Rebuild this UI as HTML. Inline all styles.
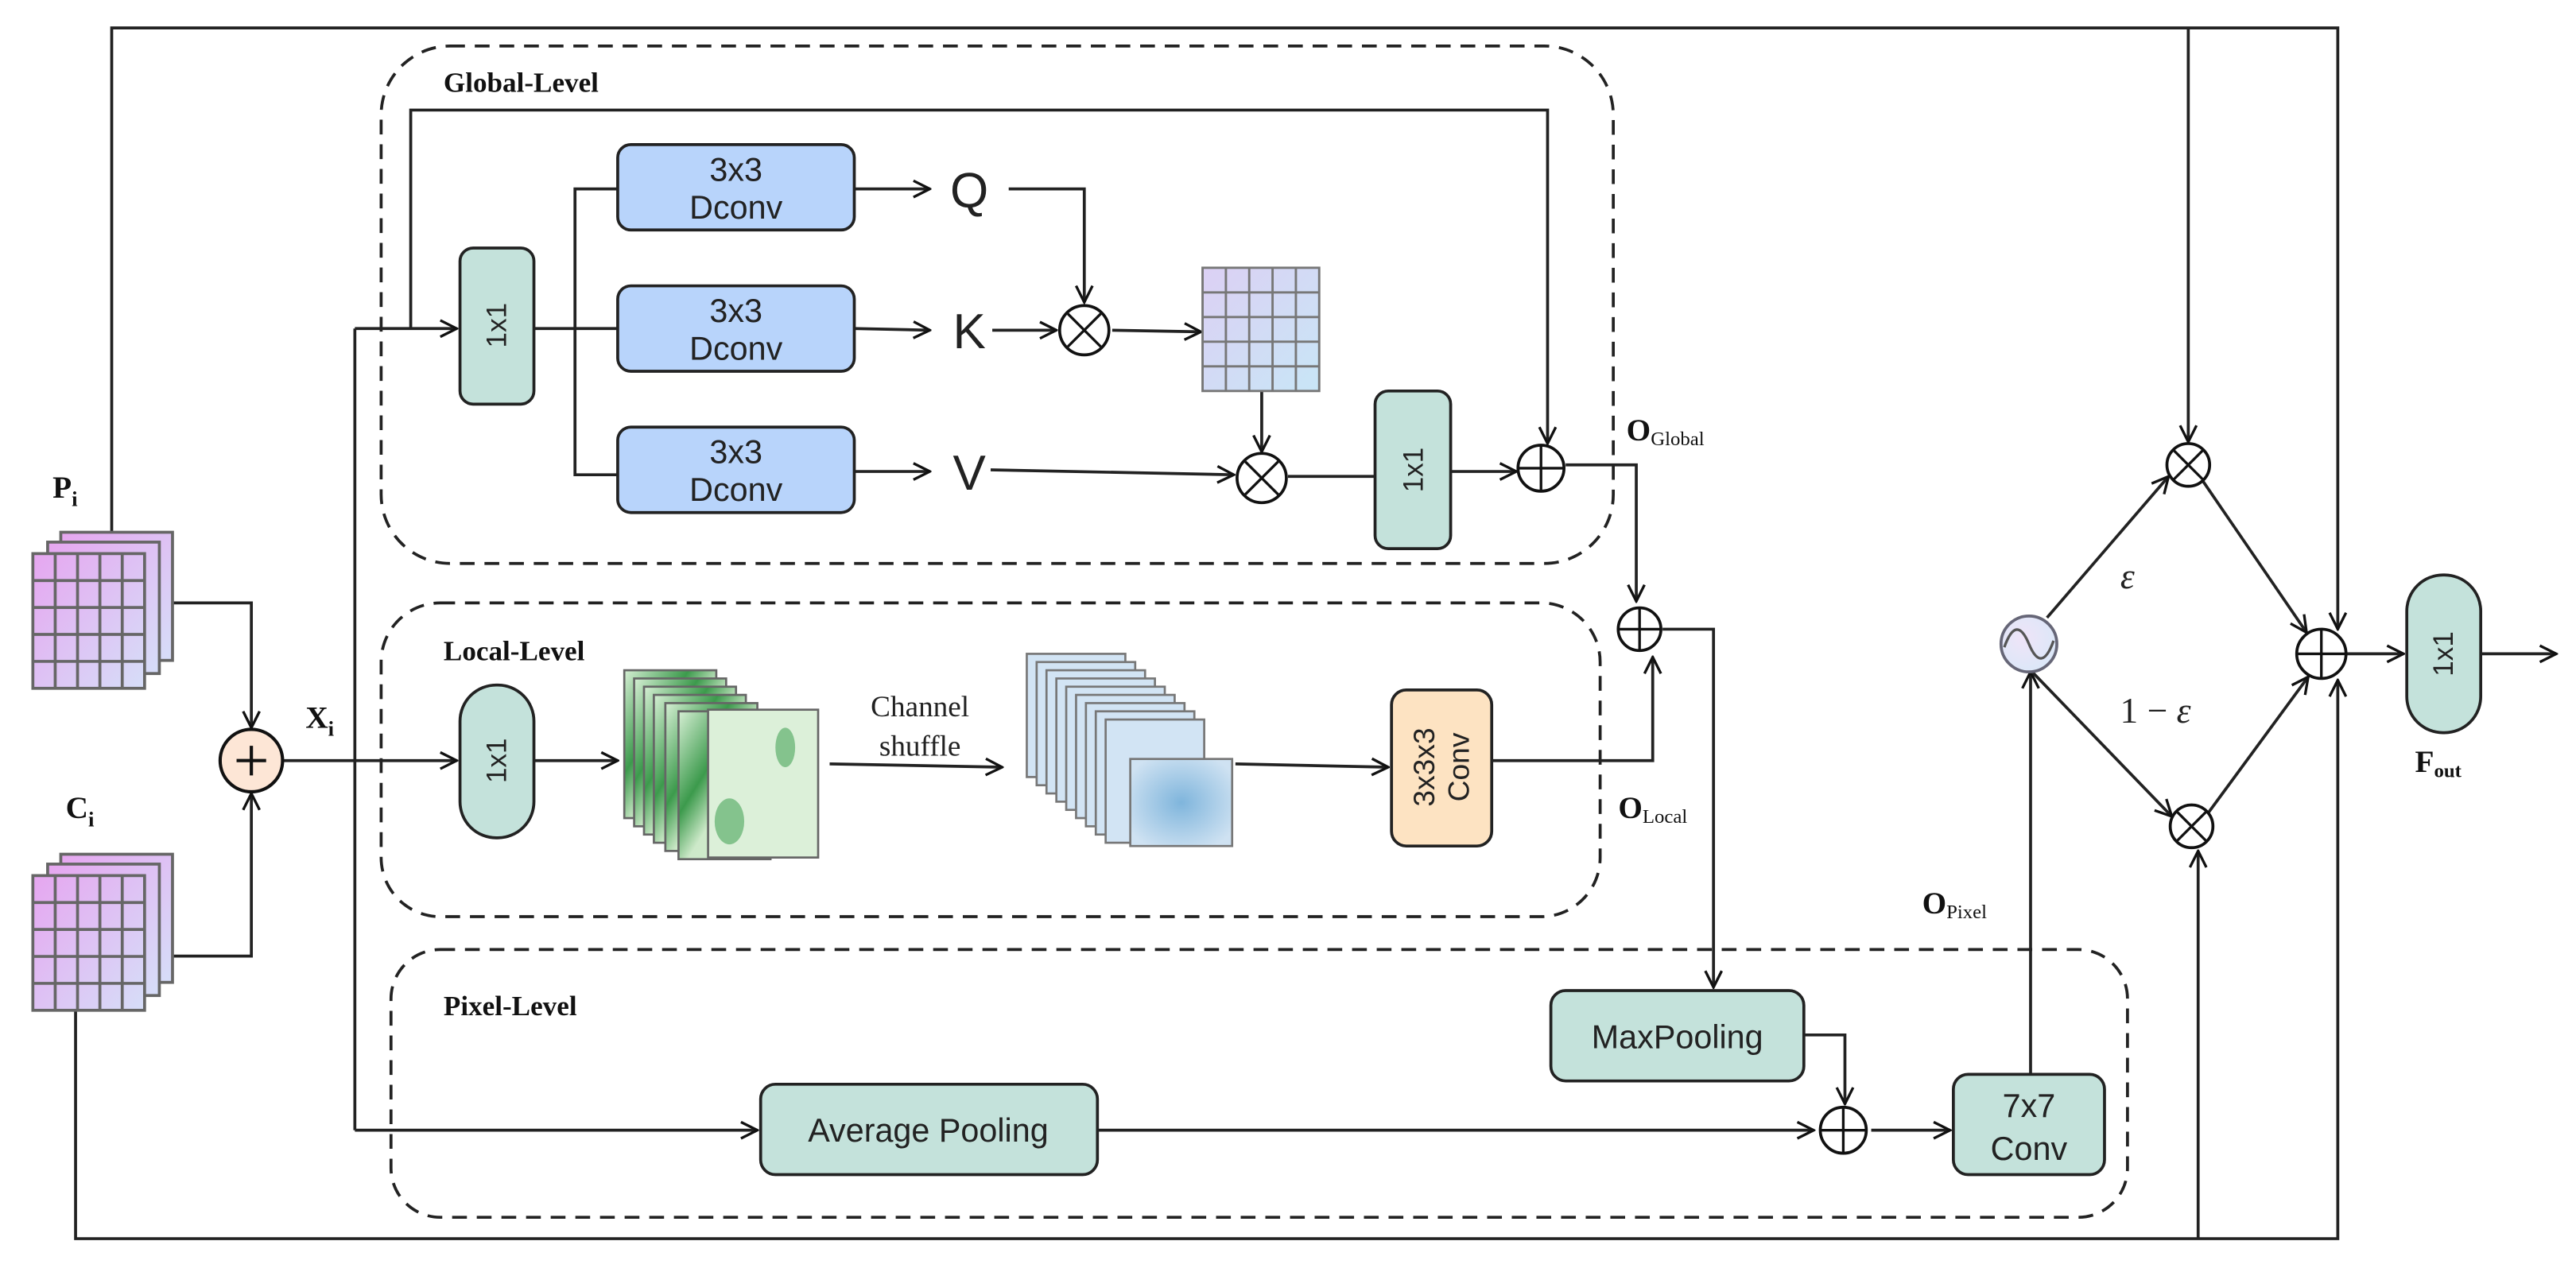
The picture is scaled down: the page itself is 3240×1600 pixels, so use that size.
<!DOCTYPE html>
<html><head><meta charset="utf-8"><style>
html,body{margin:0;padding:0;background:#fff;}
svg{display:block}
.sans{font-family:"Liberation Sans",sans-serif;}
.serif{font-family:"Liberation Serif",serif;}
</style></head><body>
<svg width="3240" height="1600" viewBox="0 0 1568 774.3" preserveAspectRatio="none" xmlns="http://www.w3.org/2000/svg">
<defs>
<marker id="a" viewBox="0 0 12 12" refX="11" refY="6" markerWidth="12" markerHeight="12" markerUnits="userSpaceOnUse" orient="auto">
<path d="M1,1 L11,6 L1,11" fill="none" stroke="#111" stroke-width="1.6"/></marker>
<linearGradient id="pg" x1="0" y1="0" x2="1" y2="1"><stop offset="0" stop-color="#e6a6f0"/><stop offset="1" stop-color="#d6def8"/></linearGradient>
<linearGradient id="gg" x1="0" y1="0" x2="1" y2="1"><stop offset="0" stop-color="#dcd0f4"/><stop offset="1" stop-color="#c8e6f6"/></linearGradient>
<linearGradient id="gr" x1="0" y1="0" x2="1" y2="1"><stop offset="0" stop-color="#d6efd4"/><stop offset="0.35" stop-color="#3c9a4c"/><stop offset="0.55" stop-color="#cde9c9"/><stop offset="1" stop-color="#d6efd4"/></linearGradient>
<radialGradient id="bl" cx="0.5" cy="0.5" r="0.6"><stop offset="0" stop-color="#7fb5dc"/><stop offset="1" stop-color="#cfe2f2"/></radialGradient>
<radialGradient id="sg" cx="0.4" cy="0.4" r="0.7"><stop offset="0" stop-color="#efe4f8"/><stop offset="1" stop-color="#d9e8f8"/></radialGradient>
</defs>
<g fill="none" stroke="#222" stroke-width="1.8">
<rect x="232" y="28" width="750" height="315" rx="42" stroke-dasharray="9,6"/>
<rect x="232" y="367" width="742" height="191" rx="36" stroke-dasharray="9,6"/>
<rect x="238" y="578" width="1057" height="163" rx="30" stroke-dasharray="9,6"/>
<polyline points="68,330 68,17 1423,17 1423,383" marker-end="url(#a)"/>
<line x1="1332" y1="17" x2="1332" y2="269" marker-end="url(#a)"/>
<polyline points="46,600 46,754 1423,754 1423,414" marker-end="url(#a)"/>
<line x1="1338" y1="754" x2="1338" y2="518" marker-end="url(#a)"/>
<polyline points="105,367 153,367 153,443" marker-end="url(#a)"/>
<polyline points="105,582 153,582 153,483" marker-end="url(#a)"/>
<line x1="172" y1="463" x2="278" y2="463" marker-end="url(#a)"/>
<line x1="216" y1="200" x2="216" y2="688"/>
<line x1="216" y1="200" x2="278" y2="200" marker-end="url(#a)"/>
<polyline points="250,200 250,67 942,67 942,270" marker-end="url(#a)"/>
<line x1="216" y1="688" x2="461" y2="688" marker-end="url(#a)"/>
<line x1="325" y1="200" x2="376" y2="200"/>
<polyline points="376,115 350,115 350,289 376,289"/>
<line x1="520" y1="115" x2="566" y2="115" marker-end="url(#a)"/>
<line x1="520" y1="200" x2="566" y2="201" marker-end="url(#a)"/>
<line x1="520" y1="287" x2="566" y2="287" marker-end="url(#a)"/>
<polyline points="614,115 660,115 660,184" marker-end="url(#a)"/>
<line x1="604" y1="201" x2="643" y2="201" marker-end="url(#a)"/>
<line x1="677" y1="201" x2="731" y2="202" marker-end="url(#a)"/>
<line x1="768" y1="238" x2="768" y2="275" marker-end="url(#a)"/>
<line x1="603" y1="286" x2="751" y2="289" marker-end="url(#a)"/>
<line x1="784" y1="290" x2="837" y2="290"/>
<line x1="883" y1="287" x2="923" y2="287" marker-end="url(#a)"/>
<polyline points="953,283 996,283 996,366" marker-end="url(#a)"/>
<line x1="325" y1="463" x2="376" y2="463" marker-end="url(#a)"/>
<line x1="505" y1="465" x2="610" y2="467" marker-end="url(#a)"/>
<line x1="752" y1="465" x2="845" y2="467" marker-end="url(#a)"/>
<polyline points="908,463 1006,463 1006,400" marker-end="url(#a)"/>
<polyline points="1012,383 1043,383 1043,601" marker-end="url(#a)"/>
<polyline points="1098,630 1123,630 1123,672" marker-end="url(#a)"/>
<line x1="668" y1="688" x2="1104" y2="688" marker-end="url(#a)"/>
<line x1="1139" y1="688" x2="1187" y2="688" marker-end="url(#a)"/>
<line x1="1236" y1="654" x2="1236" y2="409" marker-end="url(#a)"/>
<line x1="1246" y1="376" x2="1320" y2="290" marker-end="url(#a)"/>
<line x1="1236" y1="408" x2="1322" y2="497" marker-end="url(#a)"/>
<line x1="1341" y1="293" x2="1404" y2="385" marker-end="url(#a)"/>
<line x1="1344" y1="495" x2="1405" y2="412" marker-end="url(#a)"/>
<line x1="1428" y1="398" x2="1463" y2="398" marker-end="url(#a)"/>
<line x1="1510" y1="398" x2="1556" y2="398" marker-end="url(#a)"/>
</g>

<g id="stk" stroke="#666" stroke-width="1.8" fill="url(#pg)">
<rect x="37" y="324" width="68" height="78"/>
<rect x="29" y="330" width="68" height="80"/>
<rect x="20" y="337" width="68" height="82"/>
<path d="M33.6,337v82M47.2,337v82M60.8,337v82M74.4,337v82M20,353.4h68M20,369.8h68M20,386.2h68M20,402.6h68" fill="none"/>
</g>
<use href="#stk" transform="translate(0,196)"/>

<ellipse cx="153" cy="463" rx="19" ry="19" fill="#fde6d6" stroke="#111" stroke-width="2"/>
<path d="M144,463h18M153,454v18" stroke="#111" stroke-width="2"/>

<g stroke="#222" stroke-width="1.8">
<rect x="280" y="151" width="45" height="95" rx="8" fill="#c4e2db"/>
<rect x="376" y="88" width="144" height="52" rx="8" fill="#b8d4fb"/>
<rect x="376" y="174" width="144" height="52" rx="8" fill="#b8d4fb"/>
<rect x="376" y="260" width="144" height="52" rx="8" fill="#b8d4fb"/>
<rect x="837" y="238" width="46" height="96" rx="8" fill="#c4e2db"/>
<rect x="280" y="417" width="45" height="93" rx="22" fill="#c4e2db"/>
<rect x="847" y="420" width="61" height="95" rx="9" fill="#fde3c2"/>
<rect x="944" y="603" width="154" height="55" rx="9" fill="#c4e2db"/>
<rect x="463" y="660" width="205" height="55" rx="9" fill="#c4e2db"/>
<rect x="1189" y="654" width="92" height="61" rx="9" fill="#c4e2db"/>
<rect x="1465" y="350" width="45" height="96" rx="22" fill="#c4e2db"/>
</g>

<g stroke="#777" stroke-width="1.4" fill="url(#gg)">
<rect x="732" y="163" width="71" height="75"/>
<path d="M746.2,163v75M760.4,163v75M774.6,163v75M788.8,163v75M732,178h71M732,193h71M732,208h71M732,223h71" fill="none"/>
</g>

<g stroke="#666" stroke-width="1.3" fill="url(#gr)">
<rect x="380" y="408" width="56" height="90"/><rect x="386" y="413" width="56" height="90"/>
<rect x="392" y="418" width="56" height="90"/><rect x="398" y="423" width="56" height="90"/>
<rect x="405" y="428" width="56" height="90"/><rect x="413" y="433" width="56" height="90"/>
<rect x="431" y="432" width="67" height="90" fill="#dcf0d9"/>
</g>
<ellipse cx="444" cy="500" rx="9" ry="14" fill="#4aa55a" opacity="0.6"/>
<ellipse cx="478" cy="455" rx="6" ry="12" fill="#4aa55a" opacity="0.6"/>
<g stroke="#777" stroke-width="1.3" fill="#d2e4f4">
<rect x="625" y="398" width="60" height="75"/><rect x="631" y="403" width="60" height="75"/>
<rect x="637" y="408" width="60" height="75"/><rect x="643" y="413" width="60" height="75"/>
<rect x="649" y="418" width="60" height="75"/><rect x="655" y="423" width="60" height="75"/>
<rect x="661" y="428" width="60" height="75"/><rect x="667" y="433" width="60" height="75"/>
<rect x="673" y="438" width="60" height="75"/><rect x="688" y="462" width="62" height="53" fill="url(#bl)"/>
</g>

<g fill="#fff" stroke="#111" stroke-width="1.8">
<circle cx="660" cy="201" r="15"/><circle cx="768" cy="291" r="15"/>
<circle cx="1332" cy="283" r="13"/><circle cx="1334" cy="503" r="13"/>
<circle cx="938" cy="285" r="14"/><circle cx="998" cy="383" r="13"/>
<circle cx="1122" cy="688" r="14"/><circle cx="1413" cy="398" r="15"/>
</g>
<g stroke="#111" stroke-width="1.6">
<path d="M650,191l20,20M670,191l-20,20M758,281l20,20M778,281l-20,20M1323,274l18,18M1341,274l-18,18M1325,494l18,18M1343,494l-18,18"/>
<path d="M924,285h28M938,271v28M985,383h26M998,370v26M1108,688h28M1122,674v28M1398,398h30M1413,383v30"/>
</g>
<circle cx="1235" cy="392" r="17" fill="url(#sg)" stroke="#667" stroke-width="1.8"/>
<path d="M1220,394c5,-14 10,-14 15,-2c5,12 10,12 15,-2" fill="none" stroke="#555" stroke-width="1.6"/>

<g class="sans" fill="#222" font-size="20" text-anchor="middle">
<text x="448" y="110">3x3</text><text x="448" y="133">Dconv</text>
<text x="448" y="196">3x3</text><text x="448" y="219">Dconv</text>
<text x="448" y="282">3x3</text><text x="448" y="305">Dconv</text>
<text x="1021" y="638">MaxPooling</text>
<text x="565" y="695">Average Pooling</text>
<text x="1235" y="680">7x7</text><text x="1235" y="706">Conv</text>
<text font-size="17" transform="translate(308,198) rotate(-90)">1x1</text>
<text font-size="17" transform="translate(866,286) rotate(-90)">1x1</text>
<text font-size="17" transform="translate(308,463) rotate(-90)">1x1</text>
<text font-size="17" transform="translate(1493,398) rotate(-90)">1x1</text>
<text font-size="18" transform="translate(873,467) rotate(-90)">3x3x3</text>
<text font-size="18" transform="translate(894,467) rotate(-90)">Conv</text>
<text font-size="30" x="590" y="126">Q</text>
<text font-size="30" x="590" y="212">K</text>
<text font-size="30" x="590" y="298">V</text>
</g>
<g class="serif" fill="#111" font-weight="bold" font-size="17">
<text x="270" y="56">Global-Level</text>
<text x="270" y="402">Local-Level</text>
<text x="270" y="618">Pixel-Level</text>
<text x="32" y="303" font-size="19">P<tspan font-size="13" dy="5">i</tspan></text>
<text x="40" y="498" font-size="19">C<tspan font-size="13" dy="5">i</tspan></text>
<text x="186" y="443" font-size="19">X<tspan font-size="13" dy="5">i</tspan></text>
<text x="990" y="268" font-size="19">O<tspan font-size="12" font-weight="normal" dy="3">Global</tspan></text>
<text x="985" y="498" font-size="19">O<tspan font-size="12" font-weight="normal" dy="3">Local</tspan></text>
<text x="1170" y="556" font-size="19">O<tspan font-size="12" font-weight="normal" dy="3">Pixel</tspan></text>
<text x="1470" y="470" font-size="19">F<tspan font-size="12" dy="3">out</tspan></text>
</g>
<g class="serif" fill="#222" font-size="18" text-anchor="middle">
<text x="560" y="436">Channel</text><text x="560" y="460">shuffle</text>
<text x="1295" y="358" font-size="22" font-style="italic">ε</text>
<text x="1312" y="440" font-size="22">1 − <tspan font-style="italic">ε</tspan></text>
</g>
</svg>
</body></html>
